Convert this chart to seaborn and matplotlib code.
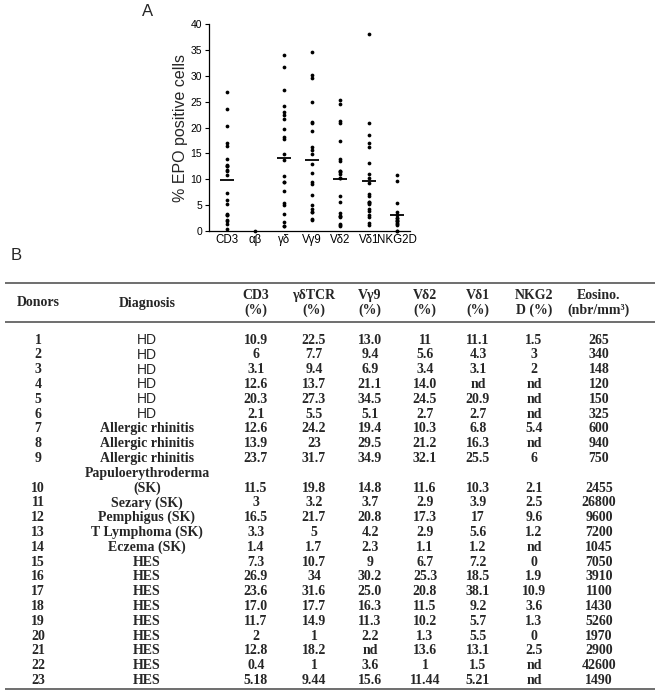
import numpy as np
import pandas as pd
import matplotlib
matplotlib.use("Agg")
import matplotlib.pyplot as plt
import seaborn as sns

sns.set_theme(style="white")
plt.rcParams['font.family'] = ['Liberation Sans', 'DejaVu Sans']

# table B, columns as printed
donors = [str(i) for i in range(1, 24)]
diagnosis = ["HD"] * 6 + ["Allergic rhinitis"] * 3 + \
    ["Papuloerythroderma\n(SK)", "Sezary (SK)", "Pemphigus (SK)",
     "T Lymphoma (SK)", "Eczema (SK)"] + ["HES"] * 9
cd3 = ["10.9", "6", "3.1", "12.6", "20.3", "2.1", "12.6", "13.9", "23.7", "11.5", "3", "16.5",
       "3.3", "1.4", "7.3", "26.9", "23.6", "17.0", "11.7", "2", "12.8", "0.4", "5.18"]
gd_tcr = ["22.5", "7.7", "9.4", "13.7", "27.3", "5.5", "24.2", "23", "31.7", "19.8", "3.2", "21.7",
          "5", "1.7", "10.7", "34", "31.6", "17.7", "14.9", "1", "18.2", "1", "9.44"]
vg9 = ["13.0", "9.4", "6.9", "21.1", "34.5", "5.1", "19.4", "29.5", "34.9", "14.8", "3.7", "20.8",
       "4.2", "2.3", "9", "30.2", "25.0", "16.3", "11.3", "2.2", "nd", "3.6", "15.6"]
vd2 = ["11", "5.6", "3.4", "14.0", "24.5", "2.7", "10.3", "21.2", "32.1", "11.6", "2.9", "17.3",
       "2.9", "1.1", "6.7", "25.3", "20.8", "11.5", "10.2", "1.3", "13.6", "1", "11.44"]
vd1 = ["11.1", "4.3", "3.1", "nd", "20.9", "2.7", "6.8", "16.3", "25.5", "10.3", "3.9", "17",
       "5.6", "1.2", "7.2", "18.5", "38.1", "9.2", "5.7", "5.5", "13.1", "1.5", "5.21"]
nkg2d = ["1.5", "3", "2", "nd", "nd", "nd", "5.4", "nd", "6", "2.1", "2.5", "9.6",
         "1.2", "nd", "0", "1.9", "10.9", "3.6", "1.3", "0", "2.5", "nd", "nd"]
eosino = ["265", "340", "148", "120", "150", "325", "600", "940", "750", "2455", "26800", "9600",
          "7200", "1045", "7050", "3910", "1100", "1430", "5260", "1970", "2900", "42600", "1490"]
headers = ["Donors", "Diagnosis", "CD3\n(%)", "γδTCR\n(%)", "Vγ9\n(%)", "Vδ2\n(%)",
           "Vδ1\n(%)", "NKG2\nD (%)", "Eosino.\n(nbr/mm³)"]

# panel A
dot_cats = ["CD3", "αβ", "γδ", "Vγ9", "Vδ2", "Vδ1", "NKG2D"]
ab_vals = [0.0]
dot_skip = ["9"]  # donor 9 is not in the dot plot
mean_marks = [9.9, np.nan, 14.2, 13.7, 10.1, 9.6, 3.1]

rows = []
for cat, col in zip(dot_cats, [cd3, None, gd_tcr, vg9, vd2, vd1, nkg2d]):
    if col is None:
        rows += [(cat, v) for v in ab_vals]
        continue
    for d, v in zip(donors, col):
        if d in dot_skip or v == "nd":
            continue
        rows.append((cat, float(v)))
df = pd.DataFrame(rows, columns=["cell", "pct"])

W, H = 661, 700
fig = plt.figure(figsize=(W / 100, H / 100), dpi=100)

ax = fig.add_axes([209 / W, 1 - 231 / H, (410 - 209) / W, (231 - 24) / H])
sns.stripplot(data=df, x="cell", y="pct", order=dot_cats, jitter=False,
              color="black", size=2.7, ax=ax)
ax.scatter(np.arange(len(dot_cats)), mean_marks, marker="_", s=100,
           color="black", linewidths=1.3, zorder=3)
for c in ax.collections:
    c.set_clip_on(False)
ax.set_xlim(-0.63, 6.45)
ax.set_ylim(0, 40)
ax.set_yticks(range(0, 41, 5))
ax.set_xlabel("")
ax.set_ylabel("% EPO positive cells", fontsize=11.5, labelpad=2)
ax.tick_params(axis="y", left=True, length=3, width=0.8, labelsize=7.5, pad=2, colors="black")
ax.tick_params(axis="x", bottom=False, length=0, labelsize=8.3, pad=2, colors="black")
sns.despine(ax=ax)
for s in ["left", "bottom"]:
    ax.spines[s].set_color("black")
    ax.spines[s].set_linewidth(0.9)

fig.text(148 / W, 1 - 12 / H, "A", fontsize=12, ha="center", va="center")
fig.text(16 / W, 1 - 256 / H, "B", fontsize=12, ha="center", va="center")

# table B
serif = ['Liberation Serif', 'DejaVu Serif']
tx = fig.add_axes([0, 0, 1, 1])
tx.set_xlim(0, W)
tx.set_ylim(H, 0)
tx.axis("off")
tx.hlines([283, 322, 689], 5, 655, color="#555555", lw=1.2)

col_x = [38, 147, 256, 314, 370, 425, 478, 534, 599]
for x, h in zip(col_x, headers):
    tx.text(x, 303, h, ha="center", va="center", family=serif, fontweight="bold",
            fontsize=10, linespacing=1.15)

line = 0
for i in range(len(donors)):
    if "\n" in diagnosis[i]:
        line += 1
    y = 340 + line * 14.8
    cells = [donors[i], diagnosis[i], cd3[i], gd_tcr[i], vg9[i], vd2[i], vd1[i], nkg2d[i], eosino[i]]
    for j, (x, t) in enumerate(zip(col_x, cells)):
        if j == 1 and t == "HD":
            tx.text(x, y, t, ha="center", va="center", fontsize=10)
        elif j == 1 and "\n" in t:
            top, bot = t.split("\n")
            tx.text(x, y - 14.8, top, ha="center", va="center", family=serif,
                    fontweight="bold", fontsize=10)
            tx.text(x, y, bot, ha="center", va="center", family=serif,
                    fontweight="bold", fontsize=10)
        else:
            tx.text(x, y, t, ha="center", va="center", family=serif,
                    fontweight="bold", fontsize=10)
    line += 1

fig.savefig("out.png", dpi=100)
